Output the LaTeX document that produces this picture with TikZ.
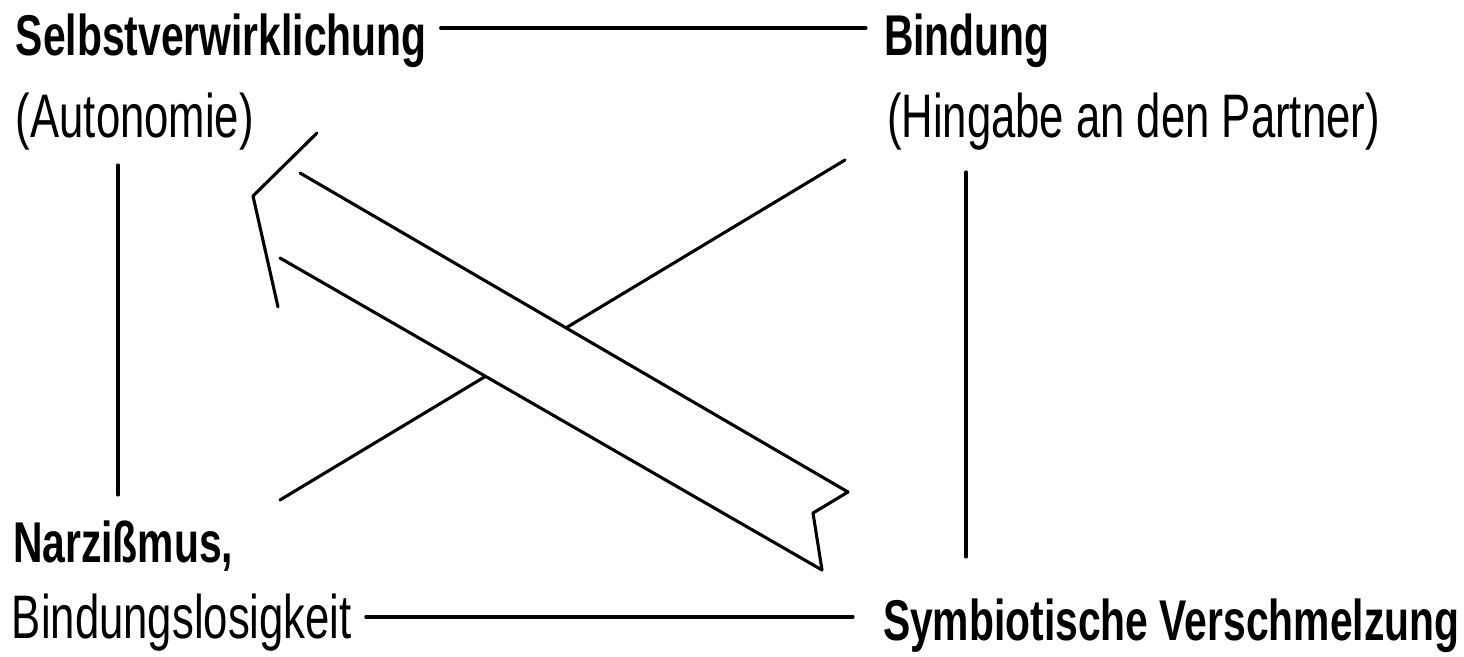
\documentclass[tikz,border=0pt]{standalone}
\usepackage{fontspec}
\setmainfont{Liberation Sans}[FakeStretch=0.71]
\usetikzlibrary{calc}
\begin{document}
\begin{tikzpicture}[x=1pt,y=-1pt,
  lbl/.style={anchor=base west,inner sep=0pt,outer sep=0pt},
  bold/.style={lbl,font=\fontsize{57.5}{62}\selectfont\bfseries},
  reg/.style={lbl,font=\fontsize{61.5}{66}\selectfont},
  ln/.style={line width=3.1pt,line cap=round,line join=round}]
\fill[white] (0,0) rectangle (1464,656);
\useasboundingbox (0,0) rectangle (1464,656);
\node[bold] (sv) at (16,55) {Selbstverwirklichung};
\node[reg]  (au) at (16,137) {(Autonomie)};
\node[bold] (bi) at (884,55) {Bindung};
\node[reg]  (hi) at (887,137) {(Hingabe an den Partner)};
\node[bold] (na) at (13,562) {Narzißmus,};
\node[reg]  (bl) at (12,638) {Bindungslosigkeit};
\node[bold] (sy) at (883,640) {Symbiotische Verschmelzung};
% frame connectors
\draw[ln] ($(sv.base east)+(14,-27)$) -- ($(bi.base west)+(-18,-27)$);
\draw[ln] ($(bl.base east)+(14,-21)$) -- ($(sy.base west)+(-30,-23)$);
\draw[ln] ($(au.base west)+(102,28)$) -- ($(na.base west)+(105,-67)$);
\draw[ln] ($(hi.base west)+(79,35)$) -- ($(sy.base west)+(83,-83)$);
% diagonal
\coordinate (d1) at (845,160);
\coordinate (d2) at (280,500);
\draw[ln] (d1) -- (d2);
% broad arrow
\coordinate (u1) at (300,173);
\coordinate (u2) at (848,492);
\coordinate (t1) at (813,513);
\coordinate (l2) at (822,570);
\coordinate (l1) at (280,258);
\coordinate (h1) at (317,133);
\coordinate (h2) at (253,196);
\coordinate (h3) at (278,307);
\fill[white] (u1) -- (u2) -- (t1) -- (l2) -- (l1) -- cycle;
\draw[ln] (u1) -- (u2) -- (t1) -- (l2) -- (l1);
\draw[ln] (h1) -- (h2) -- (h3);
\end{tikzpicture}
\end{document}
